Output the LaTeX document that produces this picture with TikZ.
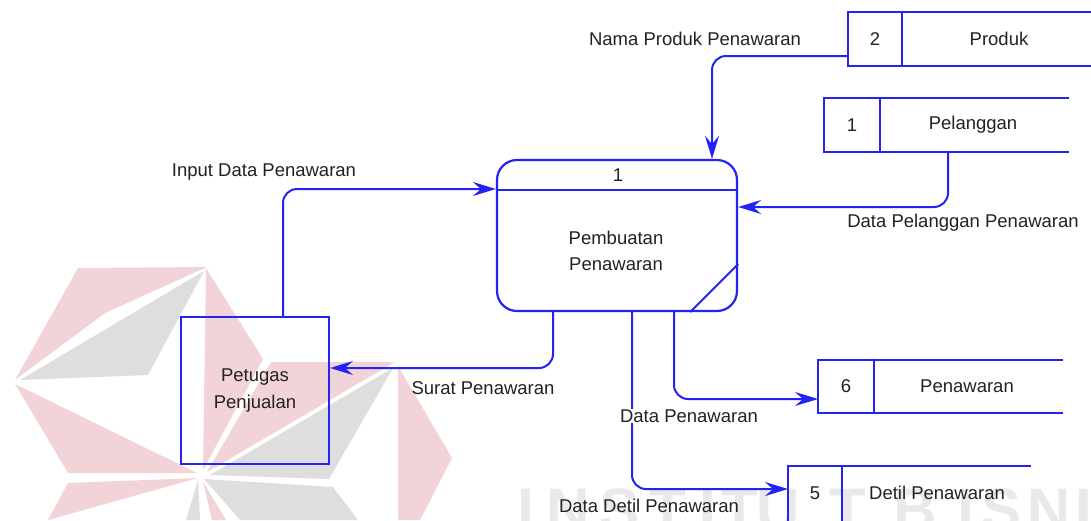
\documentclass[tikz,border=0pt]{standalone}
\usepackage{fontspec}
\setmainfont{Liberation Sans}
\usetikzlibrary{arrows.meta}
\definecolor{dfdblue}{RGB}{35,35,245}
\definecolor{txtc}{RGB}{34,34,34}
\definecolor{wmred}{RGB}{242,212,216}
\definecolor{wmgray}{RGB}{222,222,222}
\definecolor{wmtext}{RGB}{233,233,233}
\begin{document}
\begin{tikzpicture}[x=1pt,y=-1pt,
  lbl/.style={font=\fontsize{18.5}{26.5}\selectfont, text=txtc, inner sep=1pt, align=center},
  flow/.style={draw=dfdblue, line width=2pt, rounded corners=14pt, -{Stealth[length=23pt,width=14pt,inset=8pt]}},
  procbox/.style={draw=dfdblue, line width=2.2pt, rounded corners=20pt, minimum width=240pt, minimum height=151pt, inner sep=0pt},
  entbox/.style={draw=dfdblue, line width=2pt, minimum width=148pt, minimum height=147pt, inner sep=0pt, font=\fontsize{18.5}{26.5}\selectfont, text=txtc, align=center},
  numbox/.style={draw=dfdblue, line width=2.5pt, inner sep=0pt, outer sep=0pt, font=\fontsize{18.5}{22}\selectfont, text=txtc},
  storeline/.style={draw=dfdblue, line width=2.5pt},
  wmletter/.style={font=\fontsize{60}{60}\selectfont\bfseries, text=wmtext, anchor=base, inner sep=0pt}
]
\useasboundingbox (0,0) rectangle (1091,520);
\fill[white] (0,0) rectangle (1091,520);

% watermark logo
\fill[wmred] (15,380) -- (78,268) -- (207,267) -- (105,313) -- cycle;
\fill[wmgray] (20,380) -- (204,271) -- (148,375) -- cycle;
\fill[wmred] (206,268) -- (263,359) -- (203,470) -- cycle;
\fill[wmred] (271,362) -- (395,362) -- (207,472) -- cycle;
\fill[wmgray] (393,368) -- (329,479) -- (210,475) -- cycle;
\fill[wmred] (398,366) -- (452,458) -- (420,520) -- (398,520) -- cycle;
\fill[wmred] (15,384) -- (68,473) -- (197,473) -- cycle;
\fill[wmred] (68,483) -- (198,478) -- (48,520) -- cycle;
\fill[wmgray] (204,479) -- (333,487) -- (358,520) -- (240,520) -- cycle;
\fill[wmgray] (198,480) -- (200,520) -- (186,520) -- cycle;
\fill[wmred] (203,482) -- (226,520) -- (212,520) -- cycle;
% watermark text
\foreach \ch/\xx in {I/526,N/568,S/620,T/668,I/708,T/740,U/778,T/848,B/915,I/966,S/1001,N/1049,I/1084,S/1120}
  \node[wmletter] (wm\xx) at (\xx,530) {\ch};

% process
\node[procbox] (proc) at (617,235.5) {};
\draw[dfdblue, line width=2.2pt] ([yshift=-31pt]proc.north west) -- ([yshift=-31pt]proc.north east);
\draw[dfdblue, line width=2pt] ([yshift=48pt]proc.south east) -- ([xshift=-48pt]proc.south east);
\node[lbl] (procnum) at (618,175) {1};
\node[lbl] (procname) at (616,251) {Pembuatan\\Penawaran};

% external entity
\node[entbox] (ent) at (255,390.5) {Petugas\\Penjualan};

% data store 2 Produk
\node[numbox, minimum width=54pt, minimum height=54pt] (s2n) at (875,39) {2};
\node[lbl] (s2t) at (999,39) {Produk};
\draw[storeline] (s2n.north east) -- ++(200,0);
\draw[storeline] (s2n.south east) -- ++(200,0);

% data store 1 Pelanggan
\node[numbox, minimum width=56pt, minimum height=54pt] (s1n) at (852,125) {1};
\node[lbl] (s1t) at (973,125) {Pelanggan};
\draw[storeline] (s1n.north east) -- ++(189,0);
\draw[storeline] (s1n.south east) -- ++(189,0);

% data store 6 Penawaran
\node[numbox, minimum width=56pt, minimum height=53pt] (s6n) at (846,386.5) {6};
\node[lbl] (s6t) at (967,386.5) {Penawaran};
\draw[storeline] (s6n.north east) -- ++(189,0);
\draw[storeline] (s6n.south east) -- ++(189,0);

% data store 5 Detil Penawaran
\node[numbox, minimum width=54pt, minimum height=60pt] (s5n) at (815,496) {};
\node[lbl] (s5num) at (815,493) {5};
\node[lbl] (s5t) at (937,493) {Detil Penawaran};
\draw[storeline] (s5n.north east) -- ++(189,0);

% flows
\draw[flow] ([yshift=-17pt]s2n.west) -| ([xshift=95pt]proc.north);
\draw[flow] ([xshift=-25pt]s1t.south |- s1n.south) |- ([yshift=28.5pt]proc.east);
\draw[flow] ([xshift=28pt]ent.north) |- ([yshift=46.5pt]proc.west);
\draw[flow] ([xshift=-64pt]proc.south) |- ([yshift=22.5pt]ent.east);
\draw[flow] ([xshift=57pt]proc.south) |- ([yshift=-12.5pt]s6n.west);
\draw[flow] ([xshift=15pt]proc.south) |- ([yshift=7pt]s5n.west);

% flow labels
\node[lbl] (l1) at (695,39) {Nama Produk Penawaran};
\node[lbl] (l2) at (963,223) {Data Pelanggan Penawaran};
\node[lbl] (l3) at (264,172) {Input Data Penawaran};
\node[lbl] (l4) at (483,388) {Surat Penawaran};
\node[lbl, fill=white] (l5) at (689,416) {Data Penawaran};
\node[lbl] (l6) at (649,506) {Data Detil Penawaran};
\end{tikzpicture}
\end{document}
